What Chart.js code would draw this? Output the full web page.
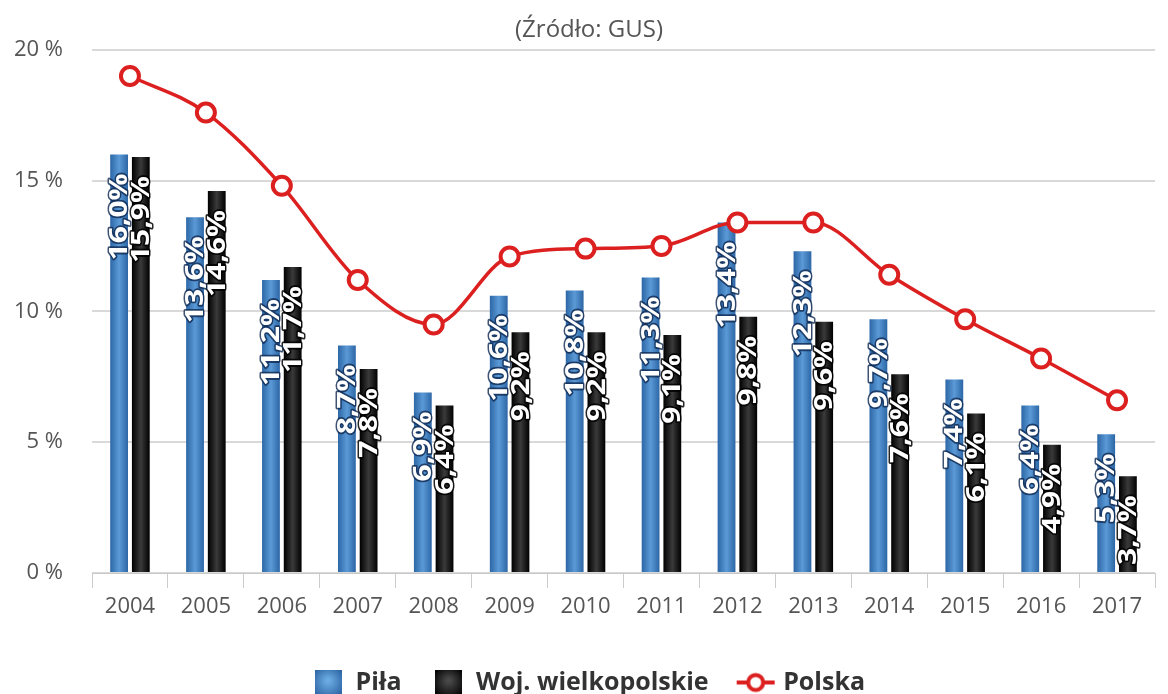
<!DOCTYPE html>
<html lang="pl">
<head>
<meta charset="utf-8">
<title>Stopa bezrobocia</title>
<script src="https://cdn.jsdelivr.net/npm/chart.js@4/dist/chart.umd.min.js"></script>
<style>
  html, body { margin: 0; padding: 0; background: #fff; }
  #wrap { width: 1168px; height: 694px; position: relative; }
</style>
</head>
<body>
<div id="wrap"><canvas id="bezrobocie"></canvas></div>
<script>
const years = ['2004', '2005', '2006', '2007', '2008', '2009', '2010', '2011', '2012', '2013', '2014', '2015', '2016', '2017'];
const pila = [16.0, 13.6, 11.2, 8.7, 6.9, 10.6, 10.8, 11.3, 13.4, 12.3, 9.7, 7.4, 6.4, 5.3];
const wielkopolskie = [15.9, 14.6, 11.7, 7.8, 6.4, 9.2, 9.2, 9.1, 9.8, 9.6, 7.6, 6.1, 4.9, 3.7];
const polska = [19.0, 17.6, 14.8, 11.2, 9.5, 12.1, 12.4, 12.5, 13.4, 13.4, 11.4, 9.7, 8.2, 6.6];
const yTicks = [0, 5, 10, 15, 20];

const FONT = '"Open Sans", "DejaVu Sans", sans-serif';
const RED = '#dc1f1f';

// small canvases used as legend symbols
function legendSquare(inner, outer) {
    const c = document.createElement('canvas');
    c.width = 27; c.height = 26;
    const g = c.getContext('2d');
    const grad = g.createRadialGradient(13.5, 11, 2, 13.5, 13, 18);
    grad.addColorStop(0, inner);
    grad.addColorStop(1, outer);
    g.fillStyle = grad;
    g.fillRect(0, 0, 27, 26);
    return c;
}

function legendLine() {
    const c = document.createElement('canvas');
    c.width = 40; c.height = 24;
    const g = c.getContext('2d');
    g.strokeStyle = RED;
    g.lineWidth = 4;
    g.beginPath(); g.moveTo(1, 12); g.lineTo(39, 12); g.stroke();
    g.fillStyle = '#fff';
    g.beginPath(); g.arc(20, 12, 7.5, 0, Math.PI * 2); g.fill(); g.stroke();
    return c;
}

const symbols = [
    legendSquare('#6aaae2', '#2a62a2'),
    legendSquare('#484848', '#000000'),
    legendLine()
];

// horizontal shading of each bar
const barShading = {
    id: 'barShading',
    beforeDatasetDraw(chart, args) {
        const meta = args.meta;
        if (meta.type !== 'bar') return;
        const ctx = chart.ctx;
        const stops = args.index === 0
            ? ['#2c66a6', '#5b9ad6', '#2c66a6']
            : ['#000000', '#3a3a3a', '#000000'];
        meta.data.forEach(el => {
            const x0 = el.x - el.width / 2, x1 = el.x + el.width / 2;
            const grad = ctx.createLinearGradient(x0, 0, x1, 0);
            grad.addColorStop(0, stops[0]);
            grad.addColorStop(0.5, stops[1]);
            grad.addColorStop(1, stops[2]);
            el.options = Object.assign({}, el.options, { backgroundColor: grad });
        });
    }
};

// vertical value labels inside the bars
const barLabels = {
    id: 'barLabels',
    afterDatasetDraw(chart, args) {
        const meta = args.meta;
        if (meta.type !== 'bar') return;
        const ctx = chart.ctx;
        const area = chart.chartArea;
        const values = chart.data.datasets[args.index].data;
        ctx.save();
        ctx.beginPath();
        ctx.rect(area.left, area.top, area.right - area.left, area.bottom - area.top);
        ctx.clip();
        ctx.font = 'bold 25px ' + FONT;
        ctx.textAlign = 'right';
        ctx.textBaseline = 'middle';
        ctx.lineJoin = 'round';
        meta.data.forEach((el, i) => {
            const txt = values[i].toFixed(1).replace('.', ',') + '%';
            ctx.save();
            ctx.translate(el.x, el.y + 19);
            ctx.rotate(-Math.PI / 2);
            ctx.scale(1.2, 1);
            ctx.strokeStyle = args.index === 0 ? 'rgba(15,40,80,0.8)' : 'rgba(0,0,0,0.85)';
            ctx.lineWidth = 3;
            ctx.strokeText(txt, 0, 1);
            ctx.fillStyle = '#ffffff';
            ctx.fillText(txt, 0, 1);
            ctx.restore();
        });
        ctx.restore();
    }
};

const flat = c => c; // scriptable so every bar keeps its own options object

new Chart(document.getElementById('bezrobocie').getContext('2d'), {
    type: 'bar',
    data: {
        labels: years,
        datasets: [{
            label: 'Piła',
            data: pila,
            backgroundColor: () => flat('#3d7fc2'),
            categoryPercentage: 0.572,
            barPercentage: 0.82,
            order: 2
        }, {
            label: 'Woj. wielkopolskie',
            data: wielkopolskie,
            backgroundColor: () => flat('#111111'),
            categoryPercentage: 0.572,
            barPercentage: 0.82,
            order: 2
        }, {
            type: 'line',
            label: 'Polska',
            data: polska,
            borderColor: RED,
            borderWidth: 3.5,
            cubicInterpolationMode: 'monotone',
            pointRadius: 9,
            pointBorderWidth: 4,
            pointBackgroundColor: '#ffffff',
            pointBorderColor: RED,
            clip: false,
            order: 1
        }]
    },
    options: {
        responsive: true,
        maintainAspectRatio: false,
        animation: false,
        layout: { padding: { left: 10, right: 0, top: 0, bottom: -11 } },
        scales: {
            x: {
                offset: true,
                afterFit(scale) { scale.height = 65; },
                grid: {
                    offset: true,
                    drawOnChartArea: false,
                    drawTicks: true,
                    tickLength: 15,
                    color: '#cccccc'
                },
                border: { color: '#c8c8c8', width: 1 },
                ticks: {
                    color: '#555555',
                    font: { family: FONT, size: 22 },
                    padding: 6,
                    maxRotation: 0
                }
            },
            y: {
                min: 0,
                max: 20,
                afterBuildTicks(scale) {
                    scale.ticks = yTicks.map(v => ({ value: v }));
                },
                afterFit(scale) { scale.width = 82; },
                border: { display: false },
                grid: {
                    color: '#d9d9d9',
                    lineWidth: 2,
                    drawTicks: false
                },
                ticks: {
                    color: '#555555',
                    font: { family: FONT, size: 22 },
                    padding: 29,
                    callback: v => v + ' %'
                }
            }
        },
        plugins: {
            title: { display: false },
            subtitle: {
                display: true,
                text: '(Źródło: GUS)',
                color: '#555555',
                font: { family: FONT, size: 24, weight: 'normal' },
                padding: { top: 16, bottom: 5 }
            },
            tooltip: { enabled: false },
            legend: {
                position: 'bottom',
                labels: {
                    usePointStyle: true,
                    pointStyleWidth: 30,
                    padding: 32,
                    color: '#333333',
                    font: { family: FONT, size: 25, weight: 'bold' },
                    generateLabels(chart) {
                        return chart.data.datasets.map((ds, i) => ({
                            text: ds.label,
                            pointStyle: symbols[i],
                            fillStyle: 'transparent',
                            strokeStyle: 'transparent',
                            lineWidth: 0,
                            hidden: false,
                            datasetIndex: i,
                            fontColor: '#333333'
                        }));
                    }
                }
            }
        }
    },
    plugins: [barShading, barLabels]
});
</script>
</body>
</html>
